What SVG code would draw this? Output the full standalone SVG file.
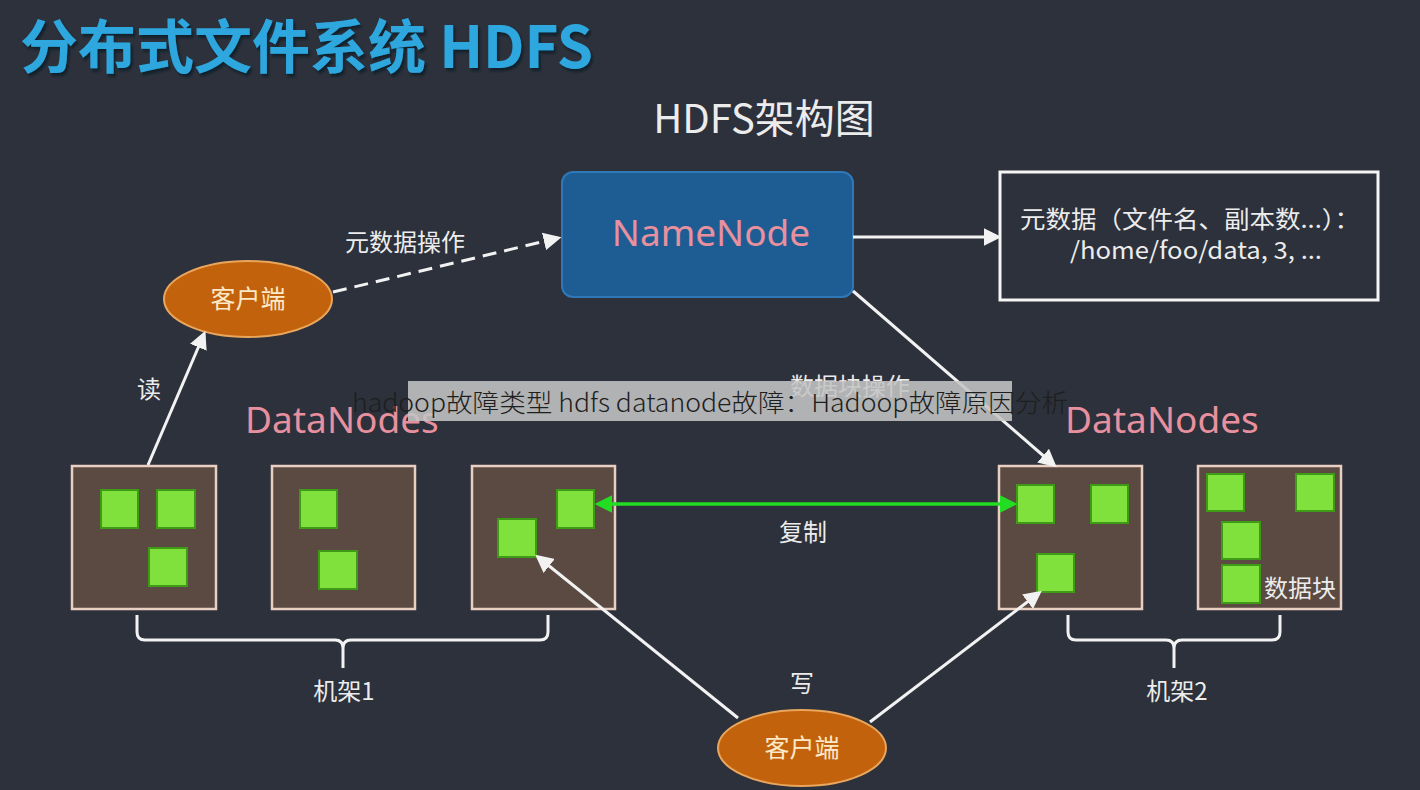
<svg xmlns="http://www.w3.org/2000/svg" width="1420" height="790" viewBox="0 0 1420 790">
<defs>
<style>
.cjk{font-family:"Noto Sans CJK SC","Noto Sans",sans-serif}
.lbl{font-family:"Noto Sans CJK SC","Noto Sans",sans-serif;fill:#ececec;font-size:24px}
.dn{fill:#5b4a42;stroke:#e9cfc2;stroke-width:2.5}
.blk{fill:#80e03c;stroke:#3f9a18;stroke-width:2}
.ln{stroke:#f2f2f2;stroke-width:3;fill:none}
.cl{fill:#c3620c;stroke:#e9a65c;stroke-width:2}
.clt{font-family:"Noto Sans CJK SC",sans-serif;fill:#fbe9c8;font-size:25px;text-anchor:middle}
.pink{font-family:"Noto Sans","Noto Sans CJK SC",sans-serif;fill:#e8909e;font-size:37px}
</style>
<filter id="sh" x="-5%" y="-20%" width="110%" height="140%"><feDropShadow dx="2" dy="3" stdDeviation="1" flood-color="#0a1a28" flood-opacity="0.9"/></filter>
<marker id="aw" viewBox="0 0 10 10" refX="8" refY="5" markerWidth="6" markerHeight="6" markerUnits="strokeWidth" orient="auto"><path d="M0,0 L10,5 L0,10 z" fill="#f2f2f2"/></marker>
<marker id="ag" viewBox="0 0 10 10" refX="8" refY="5" markerWidth="5" markerHeight="5" markerUnits="strokeWidth" orient="auto-start-reverse"><path d="M0,0 L10,5 L0,10 z" fill="#22dd22"/></marker>
</defs>
<rect x="0" y="0" width="1420" height="790" fill="#2c313b"/>
<text x="20" y="68" class="cjk" font-size="58" font-weight="bold" fill="#2ea6de" filter="url(#sh)">分布式文件系统 HDFS</text>
<text x="764" y="133" class="cjk" font-size="40" fill="#ececec" text-anchor="middle">HDFS架构图</text>

<g id="namenode">
<rect x="562" y="172" width="291" height="125" rx="11" fill="#1e5d93" stroke="#2f78b8" stroke-width="2"/>
<text x="711" y="246" class="pink" text-anchor="middle">NameNode</text>
</g>

<g id="metadata">
<rect x="1000" y="172" width="378" height="128" fill="none" stroke="#f5f5f5" stroke-width="3"/>
<text x="1020" y="228" class="lbl" font-size="23" textLength="340" lengthAdjust="spacingAndGlyphs">元数据（文件名、副本数...）：</text>
<text x="1070" y="259" class="lbl" font-size="23" textLength="252" lengthAdjust="spacingAndGlyphs">/home/foo/data, 3, ...</text>
</g>

<g id="client-top">
<ellipse cx="248" cy="299" rx="84" ry="38" class="cl"/>
<text x="248" y="308" class="clt">客户端</text>
</g>

<g id="client-bottom">
<ellipse cx="802" cy="748" rx="84" ry="38" class="cl"/>
<text x="802" y="757" class="clt">客户端</text>
</g>

<g id="labels">
<text x="345" y="251" class="lbl">元数据操作</text>
<text x="137" y="398" class="lbl">读</text>
<text x="790" y="395" class="lbl">数据块操作</text>
<text x="803" y="541" class="lbl" text-anchor="middle">复制</text>
<text x="802" y="692" class="lbl" text-anchor="middle">写</text>
<text x="344" y="700" class="lbl" text-anchor="middle">机架1</text>
<text x="1177" y="700" class="lbl" text-anchor="middle">机架2</text>
<text x="245" y="433" class="pink">DataNodes</text>
<text x="1065" y="433" class="pink">DataNodes</text>
</g>

<g id="datanode1">
<rect x="72" y="466" width="144" height="143" class="dn"/>
<rect x="101" y="490" width="37" height="38" class="blk"/>
<rect x="157" y="490" width="38" height="38" class="blk"/>
<rect x="149" y="548" width="38" height="38" class="blk"/>
</g>
<g id="datanode2">
<rect x="272" y="466" width="143" height="143" class="dn"/>
<rect x="300" y="490" width="37" height="38" class="blk"/>
<rect x="319" y="551" width="38" height="38" class="blk"/>
</g>
<g id="datanode3">
<rect x="472" y="466" width="143" height="143" class="dn"/>
<rect x="557" y="490" width="37" height="38" class="blk"/>
<rect x="498" y="519" width="38" height="38" class="blk"/>
</g>
<g id="datanode4">
<rect x="999" y="466" width="143" height="143" class="dn"/>
<rect x="1017" y="485" width="37" height="38" class="blk"/>
<rect x="1091" y="485" width="37" height="38" class="blk"/>
<rect x="1037" y="554" width="37" height="38" class="blk"/>
</g>
<g id="datanode5">
<rect x="1198" y="466" width="143" height="143" class="dn"/>
<rect x="1207" y="474" width="37" height="37" class="blk"/>
<rect x="1296" y="474" width="38" height="37" class="blk"/>
<rect x="1222" y="522" width="38" height="37" class="blk"/>
<rect x="1222" y="565" width="38" height="38" class="blk"/>
<text x="1300" y="597" class="lbl" font-size="25" text-anchor="middle">数据块</text>
</g>

<g id="connectors">
<line x1="333" y1="292" x2="558" y2="238" class="ln" stroke-dasharray="14,8" marker-end="url(#aw)"/>
<line x1="148" y1="465" x2="204" y2="334" class="ln" marker-end="url(#aw)"/>
<line x1="853" y1="237" x2="998" y2="237" class="ln" marker-end="url(#aw)"/>
<line x1="853" y1="291" x2="1054" y2="465" class="ln" marker-end="url(#aw)"/>
<line x1="598" y1="504" x2="1014" y2="504" stroke="#22dd22" stroke-width="3.5" marker-start="url(#ag)" marker-end="url(#ag)"/>
<line x1="738" y1="718" x2="538" y2="557" class="ln" marker-end="url(#aw)"/>
<line x1="870" y1="722" x2="1039" y2="593" class="ln" marker-end="url(#aw)"/>
<path d="M137,615 V632 Q137,640 145,640 H335 Q343,640 343,648 V668 M343,648 Q343,640 351,640 H540 Q548,640 548,632 V615" class="ln"/>
<path d="M1068,615 V632 Q1068,640 1076,640 H1166 Q1174,640 1174,648 V668 M1174,648 Q1174,640 1182,640 H1272 Q1280,640 1280,632 V615" class="ln"/>
</g>

<g id="watermark">
<rect x="408" y="381" width="604" height="40" fill="#c4c4c4" fill-opacity="0.88"/>
<text x="352" y="412" class="cjk" font-size="25" font-weight="300" fill="#1e1e1e" textLength="716" lengthAdjust="spacingAndGlyphs">hadoop故障类型 hdfs datanode故障：Hadoop故障原因分析</text>
</g>
</svg>
